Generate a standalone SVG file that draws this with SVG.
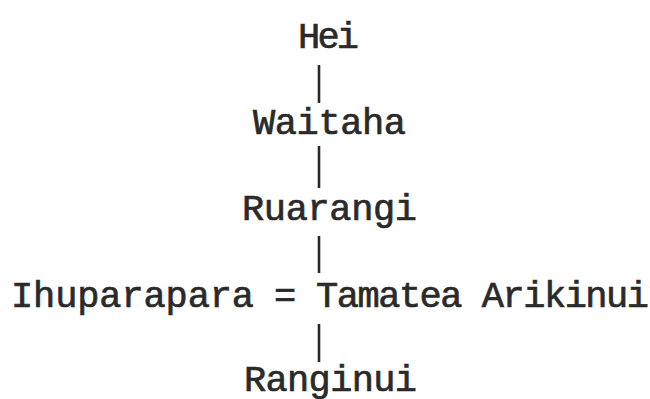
<svg xmlns="http://www.w3.org/2000/svg" width="650" height="399" viewBox="0 0 650 399">
  <style>
    .name { font-family: "Liberation Mono", "Courier New", monospace; font-size: 37px; fill: #2a2a2a; stroke: #2a2a2a; stroke-width: 0.7px; }
    .link { stroke: #2a2a2a; stroke-width: 2.6; fill: none; }
  </style>
  <rect x="0" y="0" width="650" height="399" fill="#ffffff"/>

  <!-- descent lines -->
  <g id="connectors">
    <line class="link" x1="319" y1="65" x2="319" y2="103"/>
    <line class="link" x1="319" y1="146" x2="319" y2="188"/>
    <line class="link" x1="319" y1="236" x2="319" y2="273"/>
    <line class="link" x1="319" y1="324" x2="319" y2="362"/>
  </g>

  <g id="hei">
    <text class="name" x="298" y="48" textLength="61" lengthAdjust="spacing">Hei</text>
  </g>
  <g id="waitaha">
    <text class="name" x="253" y="134" textLength="153" lengthAdjust="spacing">Waitaha</text>
  </g>
  <g id="ruarangi">
    <text class="name" x="242" y="220" textLength="175" lengthAdjust="spacing">Ruarangi</text>
  </g>
  <g id="ihuparapara">
    <text class="name" x="11" y="307" textLength="243" lengthAdjust="spacing">Ihuparapara</text>
  </g>
  <g id="marriage">
    <text class="name" x="274" y="307">=</text>
  </g>
  <g id="tamatea-arikinui">
    <text class="name" x="316" y="307" textLength="333" lengthAdjust="spacing">Tamatea Arikinui</text>
  </g>
  <g id="ranginui">
    <text class="name" x="244" y="391" textLength="173" lengthAdjust="spacing">Ranginui</text>
  </g>
</svg>
